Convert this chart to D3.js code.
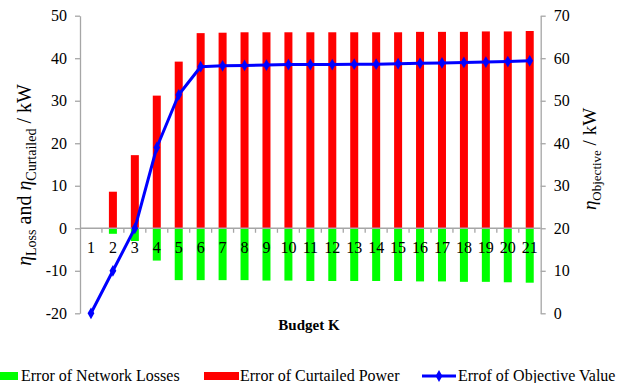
<!DOCTYPE html>
<html>
<head>
<meta charset="utf-8">
<script src="https://cdn.jsdelivr.net/npm/d3@7"></script>
<style>
  html, body { margin: 0; padding: 0; background: #fff; }
</style>
</head>
<body>
<svg id="chart" width="629" height="383"></svg>
<script>
// Budget K values on the category axis
const budgets = ["1","2","3","4","5","6","7","8","9","10","11","12","13","14","15","16","17","18","19","20","21"];
// Error of network losses (kW, left axis)
const lossError = [0, -1.3, -3.0, -7.6, -12.2, -12.2, -12.2, -12.2, -12.3, -12.3, -12.4, -12.4, -12.4, -12.4, -12.4, -12.5, -12.5, -12.6, -12.6, -12.7, -12.8];
// Error of curtailed power (kW, left axis)
const curtailError = [0, 8.6, 17.2, 31.2, 39.2, 45.9, 46.0, 46.1, 46.1, 46.1, 46.1, 46.1, 46.1, 46.1, 46.1, 46.2, 46.2, 46.2, 46.3, 46.3, 46.4];
// Error of objective value (kW, right axis)
const objectiveError = [0, 10, 20, 39, 51.4, 58.0, 58.2, 58.3, 58.4, 58.5, 58.5, 58.5, 58.6, 58.6, 58.7, 58.8, 58.9, 59.0, 59.1, 59.2, 59.4];
// Axis ticks
const leftTicks = [-20, -10, 0, 10, 20, 30, 40, 50];
const rightTicks = [0, 10, 20, 30, 40, 50, 60, 70];

const FONT = "Liberation Serif";
const svg = d3.select("#chart").style("font-family", FONT);
const plot = { left: 80, right: 540.7, top: 15.7, bottom: 313.3 };
const axisGrey = "#a6a6a6";

const x = d3.scaleBand().domain(budgets).range([plot.left, plot.right]).padding(0);
const yL = d3.scaleLinear().domain([-20, 50]).range([plot.bottom, plot.top]);
const yR = d3.scaleLinear().domain([0, 70]).range([plot.bottom, plot.top]);
const barW = x.bandwidth() * 0.365;
const plainNum = d => String(d);

// Bars: losses below zero, curtailed power above
const bars = svg.append("g");
bars.selectAll("rect.loss").data(budgets).join("rect")
  .attr("class", "loss")
  .attr("x", d => x(d) + x.bandwidth() / 2 - barW / 2)
  .attr("width", barW)
  .attr("y", (d, i) => Math.min(yL(0), yL(lossError[i])))
  .attr("height", (d, i) => Math.abs(yL(lossError[i]) - yL(0)))
  .attr("fill", "#00ff00");
bars.selectAll("rect.curt").data(budgets).join("rect")
  .attr("class", "curt")
  .attr("x", d => x(d) + x.bandwidth() / 2 - barW / 2)
  .attr("width", barW)
  .attr("y", (d, i) => Math.min(yL(0), yL(curtailError[i])))
  .attr("height", (d, i) => Math.abs(yL(curtailError[i]) - yL(0)))
  .attr("fill", "#ff0000");

// Left axis
const gL = svg.append("g").attr("transform", `translate(${plot.left},0)`)
  .call(d3.axisLeft(yL).tickValues(leftTicks).tickFormat(plainNum).tickSize(5).tickPadding(8).tickSizeOuter(0));
// Right axis
const gR = svg.append("g").attr("transform", `translate(${plot.right},0)`)
  .call(d3.axisRight(yR).tickValues(rightTicks).tickFormat(plainNum).tickSize(5).tickPadding(8).tickSizeOuter(0));
[gL, gR].forEach(g => {
  g.attr("font-family", null).style("font-family", FONT);
  g.select(".domain").attr("stroke", axisGrey).attr("stroke-width", 1.3);
  g.selectAll(".tick line").attr("stroke", axisGrey).attr("stroke-width", 1.3);
  g.selectAll(".tick text").attr("font-size", 16).attr("fill", "#000")
    .style("font-family", FONT);
});

// Category axis along zero line
const gX = svg.append("g").attr("transform", `translate(0,${yL(0)})`);
gX.append("line").attr("x1", plot.left).attr("x2", plot.right)
  .attr("stroke", axisGrey).attr("stroke-width", 1.3);
gX.selectAll("line.tk").data(budgets.slice(1)).join("line")
  .attr("class", "tk")
  .attr("x1", d => x(d)).attr("x2", d => x(d))
  .attr("y1", 0).attr("y2", 4.5)
  .attr("stroke", axisGrey).attr("stroke-width", 1.3);
gX.selectAll("text").data(budgets).join("text")
  .attr("x", d => x(d) + x.bandwidth() / 2)
  .attr("y", 25)
  .attr("text-anchor", "middle")
  .attr("font-size", 16)
  .style("font-family", FONT)
  .text(d => d);

// Objective line on right axis
const line = d3.line()
  .x((d, i) => x(budgets[i]) + x.bandwidth() / 2)
  .y(d => yR(d));
svg.append("path").datum(objectiveError)
  .attr("d", line).attr("fill", "none")
  .attr("stroke", "#0000ff").attr("stroke-width", 3).attr("stroke-linejoin", "round");
const diamond = d3.symbol().type(d3.symbolDiamond).size(40);
svg.selectAll("path.mk").data(objectiveError).join("path")
  .attr("class", "mk")
  .attr("d", diamond)
  .attr("transform", (d, i) => `translate(${x(budgets[i]) + x.bandwidth() / 2},${yR(d)})`)
  .attr("fill", "#0000ff");

// Axis titles
const tL = svg.append("text")
  .attr("transform", "translate(31,175) rotate(-90)")
  .attr("text-anchor", "middle").attr("font-size", 20).style("font-family", FONT);
tL.append("tspan").attr("font-style", "italic").text("η");
tL.append("tspan").attr("font-size", 14).attr("dy", 5).text("Loss");
tL.append("tspan").attr("dy", -5).text(" and ");
tL.append("tspan").attr("font-style", "italic").text("η");
tL.append("tspan").attr("font-size", 14).attr("dy", 5).text("Curtailed");
tL.append("tspan").attr("dy", -5).text(" / kW");

const tR = svg.append("text")
  .attr("transform", "translate(596,159) rotate(-90)")
  .attr("text-anchor", "middle").attr("font-size", 19).style("font-family", FONT);
tR.append("tspan").attr("font-style", "italic").text("η");
tR.append("tspan").attr("font-size", 13).attr("dy", 5).text("Objective");
tR.append("tspan").attr("dy", -5).text(" / kW");

svg.append("text")
  .attr("x", 309).attr("y", 330)
  .attr("text-anchor", "middle")
  .attr("font-size", 15).attr("font-weight", "bold").style("font-family", FONT)
  .text("Budget K");

// Legend
const lg = svg.append("g").style("font-family", FONT);
lg.append("rect").attr("x", 0).attr("y", 372).attr("width", 18).attr("height", 8).attr("fill", "#00ff00");
lg.append("text").attr("x", 21).attr("y", 381).attr("font-size", 16).text("Error of Network Losses");
lg.append("rect").attr("x", 204).attr("y", 372).attr("width", 35).attr("height", 8).attr("fill", "#ff0000");
lg.append("text").attr("x", 240).attr("y", 381).attr("font-size", 16).text("Error of Curtailed Power");
lg.append("line").attr("x1", 422).attr("x2", 456).attr("y1", 376).attr("y2", 376)
  .attr("stroke", "#0000ff").attr("stroke-width", 3);
lg.append("path").attr("d", diamond).attr("transform", "translate(439,376)").attr("fill", "#0000ff");
lg.append("text").attr("x", 458).attr("y", 381).attr("font-size", 16).text("Errof of Objective Value");
</script>
</body>
</html>
